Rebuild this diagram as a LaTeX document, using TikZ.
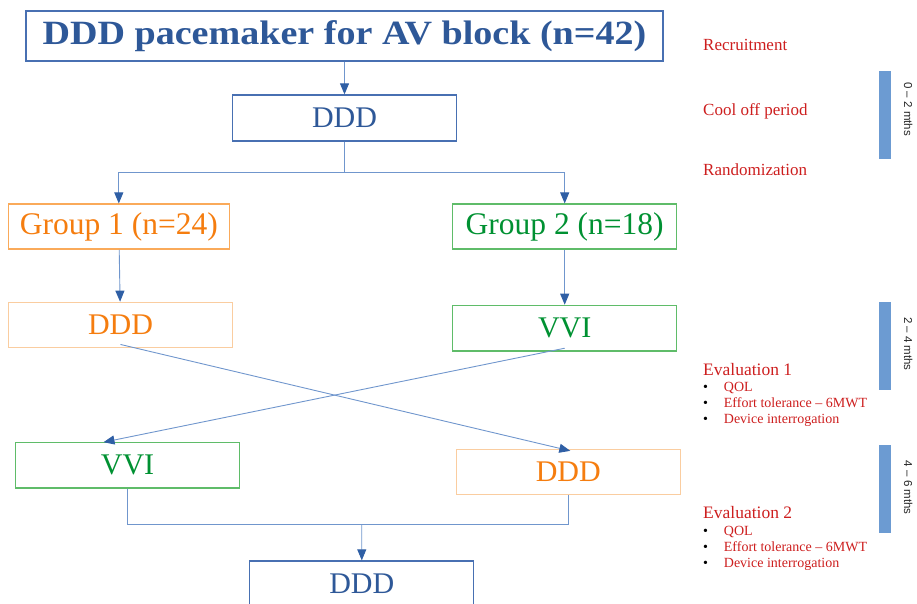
\documentclass[tikz,border=0pt]{standalone}
\usepackage{fontspec}
\setmainfont{Liberation Serif}
\setsansfont{Liberation Sans}
\newfontfamily\titlefont{Liberation Serif}[FakeStretch=1.12]
\usetikzlibrary{arrows.meta}

\definecolor{pmblue}{RGB}{46,88,152}
\definecolor{boxblue}{RGB}{72,112,178}
\definecolor{lineblue}{RGB}{112,150,205}
\definecolor{tipblue}{RGB}{47,95,165}
\definecolor{grporange}{RGB}{245,125,15}
\definecolor{grpborder}{RGB}{250,170,90}
\definecolor{lightorange}{RGB}{250,205,160}
\definecolor{grpgreen}{RGB}{0,145,50}
\definecolor{greenborder}{RGB}{95,188,105}
\definecolor{notered}{RGB}{205,30,30}
\definecolor{barblue}{RGB}{108,155,210}

\tikzset{
    box/.style={draw, line width=1.3pt, minimum width=224pt, minimum height=45pt,
        inner sep=0pt, font=\fontsize{30}{30}\selectfont},
    bluebox/.style={box, draw=boxblue, text=pmblue},
    orangebox/.style={box, draw=lightorange, text=grporange},
    greenbox/.style={box, draw=greenborder, text=grpgreen},
    link/.style={draw=lineblue, line width=0.9pt},
    arrow/.style={link, -{Triangle[length=11pt,width=9pt,color=tipblue]}},
    note/.style={text=notered, anchor=base west, inner sep=0pt,
        font=\fontsize{17}{17}\selectfont},
    bullets/.style={note, font=\fontsize{14}{16}\selectfont},
    bar/.style={fill=barblue, draw=none, minimum width=11.4pt, inner sep=0pt},
    mths/.style={rotate=-90, inner sep=0pt, text=black!85,
        font=\sffamily\fontsize{11.5}{12}\selectfont}
}

\newcommand{\evallist}{%
    \begin{tabular}[t]{@{}l@{\hspace{15.8pt}}l@{}}
    \textcolor{black}{\textbullet} & QOL\\
    \textcolor{black}{\textbullet} & Effort tolerance -- 6MWT\\
    \textcolor{black}{\textbullet} & Device interrogation
    \end{tabular}}

\begin{document}
\begin{tikzpicture}[x=1pt,y=-1pt]
    \useasboundingbox (0,0) rectangle (917,603);

    % flow chart
    \node[bluebox, minimum width=637pt, minimum height=50pt,
        font=\titlefont\bfseries\fontsize{34}{34}\selectfont] (title) at (344.5,36)
        {DDD pacemaker for AV block (n=42)};
    \node[bluebox, minimum height=46pt] (ddd0) at (344.5,118) {DDD};
    \node[box, draw=grpborder, text=grporange, minimum width=221pt,
        font=\fontsize{31.5}{31.5}\selectfont] (grp1) at (118.8,226.6) {Group 1 (n=24)};
    \node[greenbox, font=\fontsize{31.5}{31.5}\selectfont] (grp2) at (564.7,226.6) {Group 2 (n=18)};
    \node[orangebox] (ddd1) at (120.5,324.8) {DDD};
    \node[greenbox, minimum height=45.7pt] (vvi1) at (564.7,328.2) {VVI};
    \node[greenbox, minimum height=45.7pt] (vvi2) at (127.5,465.2) {VVI};
    \node[orangebox] (ddd2) at (568.3,472) {DDD};
    \node[bluebox, minimum height=46pt] (ddd3) at (361.8,584) {DDD};

    \coordinate (split) at (344.5,172.3);
    \coordinate (join) at (361.7,524.3);

    \path
    (title) edge[arrow] (ddd0)
    (grp1) edge[arrow] (ddd1)
    (grp2) edge[arrow] (vvi1)
    (join) edge[arrow] (ddd3.north)
    ;
    \draw[link] (ddd0.south) -- (split);
    \draw[arrow] (split) -| (grp1.north);
    \draw[arrow] (split) -| (grp2.north);
    \draw[arrow] ([yshift=3.5pt]ddd1.south) -- ([xshift=2pt,yshift=-2pt]ddd2.north);
    \draw[arrow] ([yshift=3.5pt]vvi1.south) -- ([xshift=-24pt,yshift=-0.5pt]vvi2.north);
    \draw[link] (vvi2.south) |- (join) -| (ddd2.south);

    % time line on the right
    \node[note] (recruit) at (703,50) {Recruitment};
    \node[note] (cool) at (703,115) {Cool off period};
    \node[note] (rand) at (703,175) {Randomization};
    \node[note, font=\fontsize{17.5}{17.5}\selectfont] (eval1) at (703,375) {Evaluation 1};
    \node[bullets] (list1) at (703,391.7) {\evallist};
    \node[note, font=\fontsize{17.5}{17.5}\selectfont] (eval2) at (703,518.3) {Evaluation 2};
    \node[bullets] (list2) at (703,535) {\evallist};

    \node[bar, minimum height=88pt] (bar1) at (885,115) {};
    \node[bar, minimum height=88.3pt] (bar2) at (885,345.9) {};
    \node[bar, minimum height=88pt] (bar3) at (885,489.3) {};
    \node[mths] (mths1) at (908.3,109.2) {0 -- 2 mths};
    \node[mths] (mths2) at (908.3,343.9) {2 -- 4 mths};
    \node[mths] (mths3) at (908.3,487.7) {4 -- 6 mths};
\end{tikzpicture}
\end{document}
